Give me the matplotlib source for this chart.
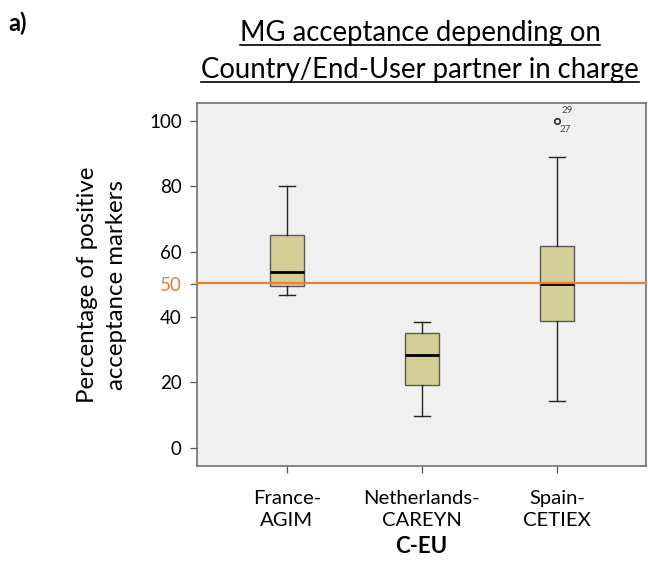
import matplotlib
matplotlib.use("Agg")
import matplotlib.pyplot as plt
from matplotlib.lines import Line2D

# data
groups = ["France-\nAGIM", "Netherlands-\nCAREYN", "Spain-\nCETIEX"]
whis_lo = [46.6, 9.6, 14.2]
q1 = [49.6, 19.1, 38.8]
median = [53.8, 28.5, 50.1]
q3 = [65.2, 35.2, 61.8]
whis_hi = [80.0, 38.4, 88.9]
fliers = [[], [], [100.0, 100.0]]
flier_ids = [[], [], ["29", "27"]]
reference_level = 50

FONT = ["Lato", "DejaVu Sans"]
plt.rcParams["font.family"] = FONT

BOX_FILL = "#D4CF98"
BOX_EDGE = "#5A5A50"
ORANGE = "#ED7D31"

fig = plt.figure(figsize=(6.48, 5.62), dpi=100)
ax = fig.add_axes([197 / 648, 1 - 466 / 562, (646 - 197) / 648, (466 - 103) / 562])
ax.set_facecolor("#F0F0F0")

stats = []
for i, name in enumerate(groups):
    stats.append(dict(label=name, med=median[i], q1=q1[i], q3=q3[i],
                      whislo=whis_lo[i], whishi=whis_hi[i], fliers=fliers[i]))

positions = [1, 2, 3]
ax.bxp(stats, positions=positions, widths=0.25, patch_artist=True,
       showfliers=True,
       boxprops=dict(facecolor=BOX_FILL, edgecolor=BOX_EDGE, linewidth=1.0),
       medianprops=dict(color="black", linewidth=2.0),
       whiskerprops=dict(color="#222222", linewidth=1.0),
       capprops=dict(color="#222222", linewidth=1.0),
       capwidths=0.12,
       flierprops=dict(marker="o", markersize=4, markerfacecolor="none",
                       markeredgecolor="#333333", markeredgewidth=1.0),
       zorder=3)

# outlier case labels
for pos, vals, ids in zip(positions, fliers, flier_ids):
    if ids:
        ax.annotate(ids[0], (pos, vals[0]), xytext=(3, 4), textcoords="offset points",
                    fontsize=7, color="#444444", ha="left", va="bottom")
        ax.annotate(ids[1], (pos, vals[1]), xytext=(2, -3), textcoords="offset points",
                    fontsize=7, color="#444444", ha="left", va="top")

ax.axhline(reference_level + 0.5, color=ORANGE, linewidth=1.6, zorder=4, clip_on=False)

ax.set_xlim(0.335, 3.66)
ax.set_ylim(-5.6, 105.5)
yticks = [0, 20, 40, 50, 60, 80, 100]
ax.set_yticks(yticks)
ax.set_yticklabels([str(t) for t in yticks], fontsize=13.5)
for lbl, t in zip(ax.get_yticklabels(), yticks):
    if t == reference_level:
        lbl.set_color(ORANGE)
ax.set_xticks(positions)
ax.set_xticklabels(groups, fontsize=14.6, linespacing=1.4)
ax.tick_params(axis="both", length=5, width=0.9, color="#555555", pad=6)
ax.tick_params(axis="x", pad=12)
ax.get_yticklines()[6].set_color(ORANGE)
for sp in ax.spines.values():
    sp.set_color("#707070")
    sp.set_linewidth(1.2)

ax.set_ylabel("Percentage of positive\nacceptance markers", fontsize=17.3, linespacing=1.45,
              labelpad=16)
ax.set_xlabel("C-EU", fontsize=16, fontweight="bold", labelpad=5)

fig.text(8 / 648, 1 - 23 / 562, "a)", fontsize=17, fontweight="bold", va="center", ha="left")

title_lines = ["MG acceptance depending on", "Country/End-User partner in charge"]
title_y = [1 - 33 / 562, 1 - 70 / 562]
title_x = 420 / 648
fig.canvas.draw()
renderer = fig.canvas.get_renderer()
for line, y in zip(title_lines, title_y):
    t = fig.text(title_x, y, line, fontsize=19.8, ha="center", va="center")
    bb = t.get_window_extent(renderer).transformed(fig.transFigure.inverted())
    fig.add_artist(Line2D([bb.x0, bb.x1], [bb.y0 + 0.002, bb.y0 + 0.002],
                          transform=fig.transFigure, color="black", linewidth=1.2))

fig.savefig("out.png", dpi=100, facecolor="white")
